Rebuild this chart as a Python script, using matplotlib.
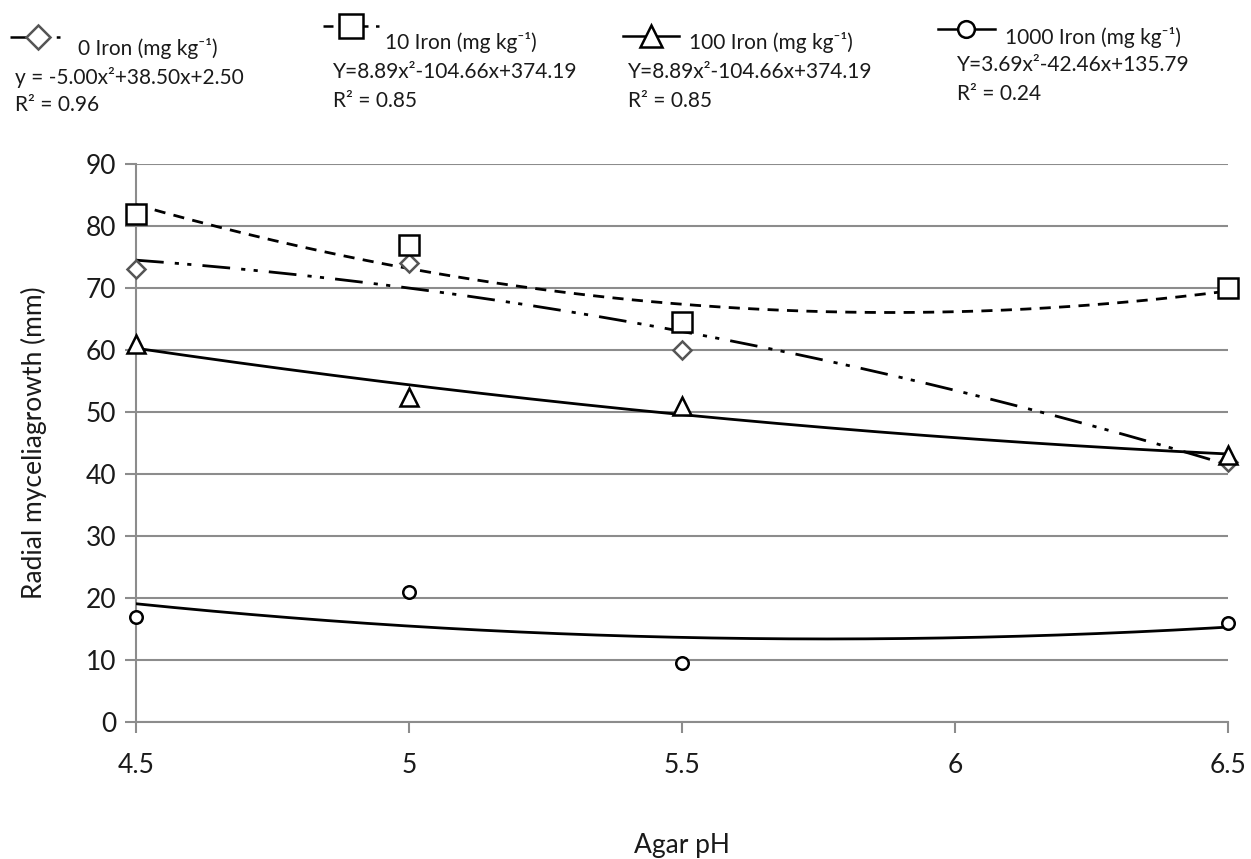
import numpy as np
import matplotlib
matplotlib.use("Agg")
import matplotlib.pyplot as plt
from matplotlib.lines import Line2D

plt.rcParams["font.family"] = ["Lato", "DejaVu Sans"]

ph = [4.5, 5.0, 5.5, 6.5]
iron_0 = [73, 74, 60, 42]
iron_10 = [82, 77, 64.5, 70]
iron_100 = [61, 52.5, 51, 43]
iron_1000 = [17, 21, 9.5, 16]

labels = ["0 Iron (mg kg⁻¹)", "10 Iron (mg kg⁻¹)",
          "100 Iron (mg kg⁻¹)", "1000 Iron (mg kg⁻¹)"]
equations = ["y = -5.00x²+38.50x+2.50", "Y=8.89x²-104.66x+374.19",
             "Y=8.89x²-104.66x+374.19", "Y=3.69x²-42.46x+135.79"]
r2_labels = ["R² = 0.96", "R² = 0.85", "R² = 0.85", "R² = 0.24"]

series = [iron_0, iron_10, iron_100, iron_1000]
markers = ["D", "s", "^", "o"]
msizes = [9, 14, 13, 9]
mecolors = ["#555555", "black", "black", "black"]
styles = [(0, (10, 4, 1.5, 3, 1.5, 4)), (0, (4, 3)), "-", "-"]

fig = plt.figure(figsize=(12.51, 8.59), dpi=100)
ax = fig.add_axes([0.1087, 0.1595, 0.8729, 0.6495])

xs = np.linspace(4.5, 6.5, 200)
for ys, m, ms, mec, ls in zip(series, markers, msizes, mecolors, styles):
    coef = np.polyfit(ph, ys, 2)
    ax.plot(xs, np.polyval(coef, xs), color="black", lw=2, linestyle=ls, zorder=3)
    ax.plot(ph, ys, linestyle="none", marker=m, ms=ms, mfc="white", mec=mec,
            mew=1.8, zorder=4, clip_on=False)

ax.set_xlim(4.5, 6.5)
ax.set_ylim(0, 90)
ax.set_xticks([4.5, 5, 5.5, 6, 6.5])
ax.set_xticklabels(["4.5", "5", "5.5", "6", "6.5"])
ax.set_yticks(range(0, 91, 10))
ax.grid(axis="y", color="#8c8c8c", lw=1.5)
ax.set_axisbelow(True)
for s in ["top", "right"]:
    ax.spines[s].set_visible(False)
for s in ["left", "bottom"]:
    ax.spines[s].set_color("#8c8c8c")
    ax.spines[s].set_linewidth(1.5)
ax.tick_params(axis="both", colors="#8c8c8c", labelcolor="#1a1a1a",
               labelsize=19, length=8, width=1.5)
ax.tick_params(axis="x", pad=14)
ax.tick_params(axis="y", pad=6)
ax.set_xlabel("Agar pH", fontsize=19, color="#1a1a1a", labelpad=40)
ax.set_ylabel("Radial myceliagrowth (mm)", fontsize=19, color="#1a1a1a", labelpad=28)

# legend block above the plot
key_pos = [(0.008, 0.957), (0.258, 0.970), (0.498, 0.958), (0.750, 0.966)]
lab_pos = [(0.062, 0.944), (0.308, 0.950), (0.551, 0.951), (0.803, 0.956)]
eq_pos = [(0.012, 0.910), (0.266, 0.916), (0.502, 0.916), (0.765, 0.924)]
r2_pos = [(0.012, 0.878), (0.266, 0.883), (0.502, 0.883), (0.765, 0.890)]
for i in range(4):
    kx, ky = key_pos[i]
    fig.add_artist(Line2D([kx, kx + 0.045], [ky, ky], color="black", lw=1.8,
                          linestyle=styles[i], transform=fig.transFigure))
    fig.add_artist(Line2D([kx + 0.0225], [ky], marker=markers[i], ms=msizes[i] + 3,
                          mfc="white", mec=mecolors[i], mew=1.8, linestyle="none",
                          transform=fig.transFigure))
    fig.text(lab_pos[i][0], lab_pos[i][1], labels[i], fontsize=15, va="center",
             color="#1a1a1a")
    fig.text(eq_pos[i][0], eq_pos[i][1], equations[i], fontsize=15, va="center",
             color="#1a1a1a")
    fig.text(r2_pos[i][0], r2_pos[i][1], r2_labels[i], fontsize=15, va="center",
             color="#1a1a1a")

fig.savefig("out.png", dpi=100)
